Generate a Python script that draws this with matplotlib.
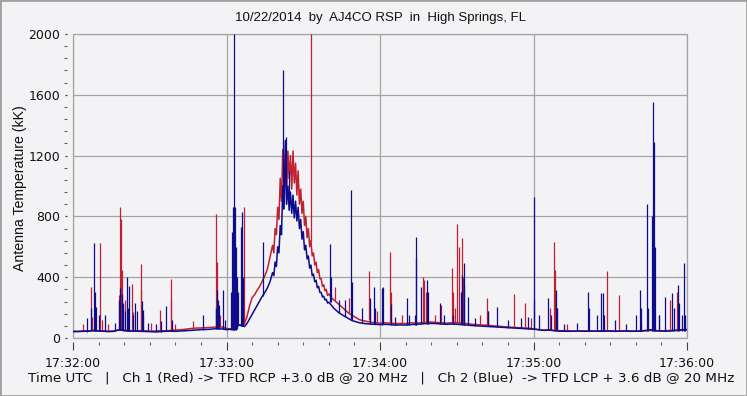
import matplotlib
matplotlib.use("Agg")
import matplotlib.pyplot as plt
from matplotlib.ticker import MultipleLocator, FixedLocator
from matplotlib.patches import Rectangle
import numpy as np

# ---------------- text ----------------
title = "10/22/2014  by  AJ4CO RSP  in  High Springs, FL"
ylabel = "Antenna Temperature (kK)"
footer = ("Time UTC   |   Ch 1 (Red) -> TFD RCP +3.0 dB @ 20 MHz   |   "
          "Ch 2 (Blue)  -> TFD LCP + 3.6 dB @ 20 MHz")
x_tick_pos = [0, 60, 120, 180, 240]          # seconds after 17:32:00
x_tick_labels = ["17:32:00", "17:33:00", "17:34:00", "17:35:00", "17:36:00"]
y_ticks = [0, 400, 800, 1200, 1600, 2000]

# ---------------- data (seconds after 17:32:00, kK) ----------------
pre_t = np.arange(0, 67, 2)
red_pre = [45, 44, 47, 46, 48, 46, 47, 45, 46, 52, 50, 48, 46, 48, 47, 45, 46,
           48, 47, 50, 52, 54, 58, 62, 65, 66, 68, 70, 72, 74, 62, 60, 80, 90]
blue_pre = [42, 42, 44, 45, 50, 46, 44, 42, 44, 55, 48, 46, 45, 44, 43, 42, 40,
            42, 44, 45, 44, 46, 48, 50, 52, 55, 56, 58, 62, 60, 55, 58, 90, 80]

hump_t = np.concatenate([np.arange(67, 79, 1.0), np.arange(78.5, 100.5, 0.5),
                         np.arange(101, 113, 1.0)])
red_hump = [95, 140, 210, 265, 285, 315, 340, 375, 410, 455, 530, 610,
            560, 720, 680, 860, 780, 1050, 900, 1240, 1000, 1180,
            950, 1230, 1050, 1200, 980, 1230, 1020, 1150, 940, 1100,
            880, 980, 820, 900, 740, 800, 660, 720, 600, 640,
            540, 560, 480, 500, 430, 450, 390, 390, 340, 350,
            310, 320, 280, 290,
            265, 250, 235, 220, 205, 190, 175, 160, 150, 140, 130, 120]
blue_hump = [75, 95, 125, 155, 185, 215, 245, 275, 300, 330, 370, 430,
             410, 500, 470, 600, 560, 740, 680, 1000, 850, 1300,
             880, 1000, 840, 960, 820, 940, 790, 900, 770, 860,
             720, 780, 650, 700, 580, 610, 520, 540, 460, 480,
             410, 420, 370, 380, 330, 340, 300, 300, 270, 275,
             250, 255, 230, 235,
             215, 195, 180, 165, 155, 145, 135, 125, 115, 110, 105, 100]

post_t = np.arange(114, 241, 2)
red_post = [112, 105, 100, 98, 100, 98, 95, 96, 95, 100,
            98, 100, 102, 105, 102, 100, 98, 100, 100, 98,
            95, 90, 88, 85, 85, 80, 78, 75, 72, 70,
            68, 66, 65, 60, 55, 52, 55, 50, 48, 48,
            47, 46, 46, 47, 46, 45, 47, 48, 46, 45,
            46, 47, 46, 45, 46, 48, 50, 48, 47, 48,
            50, 52, 55, 55]
blue_post = [95, 92, 90, 88, 90, 88, 85, 86, 85, 88,
             90, 92, 95, 96, 95, 92, 90, 92, 90, 88,
             85, 82, 80, 78, 76, 74, 72, 70, 68, 66,
             64, 62, 60, 58, 55, 50, 52, 48, 45, 45,
             44, 45, 46, 44, 45, 46, 44, 45, 46, 44,
             45, 46, 44, 45, 46, 50, 55, 48, 46, 45,
             47, 50, 52, 55]

# spikes: time, base, peak
red_spike_t = [3.8, 6.9, 7.5, 10.7, 11.2, 13.5, 17.8, 18.3, 18.6, 19.0, 19.5, 20.5,
               21.5, 23.1, 23.6, 26.4, 26.6, 27.2, 30.5, 34.1, 38.2, 38.4, 40.0,
               47.0, 55.8, 56.0, 56.3, 57.5, 64.0, 67.0, 92.9, 102.4, 108.0,
               115.6, 116.2, 119.0, 124.0, 124.4, 128.5, 136.7, 137.3, 137.9,
               141.5, 143.9, 148.0, 148.5, 149.5, 150.2, 151.0, 152.2, 152.6,
               159.0, 162.0, 162.4, 172.5, 176.7, 179.0, 186.5, 188.1, 188.5,
               189.0, 193.0, 208.9, 213.5, 222.0, 229.0, 233.5, 236.0]
red_spike_base = [45, 46, 46, 46, 46, 46, 50, 52, 52, 50, 50, 50,
                  48, 48, 48, 48, 48, 48, 46, 48, 50, 50, 52,
                  62, 72, 72, 72, 74, 80, 95, 640, 250, 165,
                  120, 115, 100, 98, 98, 96, 100, 100, 100,
                  104, 103, 100, 100, 100, 100, 100, 98, 98,
                  88, 85, 85, 70, 66, 62, 55, 50, 50,
                  50, 48, 48, 47, 48, 48, 48, 48]
red_spike_peak = [90, 338, 140, 627, 120, 90, 280, 864, 781, 447, 200, 250,
                  180, 355, 170, 320, 485, 150, 100, 184, 250, 388, 90,
                  110, 200, 816, 500, 150, 200, 864, 2000, 338, 260,
                  441, 200, 180, 568, 300, 150, 404, 380, 300,
                  150, 220, 458, 300, 200, 750, 600, 656, 400,
                  150, 261, 180, 290, 228, 130, 200, 634, 450,
                  200, 90, 443, 283, 100, 150, 250, 300]

blue_spike_t = [5.5, 7.2, 8.3, 8.6, 9.0, 10.0, 12.6, 16.5, 18.0, 18.5, 19.0, 19.5,
                20.2, 21.0, 21.4, 21.9, 23.5, 24.4, 24.9, 27.0, 27.3, 29.5, 32.5,
                34.3, 36.5, 38.8, 50.9, 55.8, 56.2, 56.6, 57.0, 58.8, 59.5,
                61.8, 62.2, 62.5, 62.8, 63.1, 63.4, 63.7, 64.0, 64.4, 65.7, 66.0,
                66.3, 74.4, 82.2, 83.4, 84.3, 100.5, 100.8, 104.0, 106.5, 108.8,
                109.2, 113.0, 115.9, 117.6, 118.0, 120.7, 121.3, 124.3, 126.0,
                130.4, 131.5, 133.5, 134.0, 134.2, 136.2, 138.2, 138.6, 143.6,
                145.0, 148.5, 151.5, 152.0, 152.7, 153.0, 154.4, 157.0, 162.3,
                165.6, 170.0, 175.0, 178.0, 180.0, 180.3, 182.0, 185.8, 187.0,
                188.6, 189.2, 192.0, 197.0, 201.4, 201.8, 205.0, 206.3, 207.0,
                207.5, 212.0, 216.0, 220.0, 221.5, 222.2, 224.2, 224.6, 226.5,
                226.8, 227.1, 227.4, 229.0, 231.5, 234.1, 234.8, 236.5, 237.0,
                238.0, 238.9, 239.3]
blue_spike_base = [42, 45, 48, 48, 48, 46, 44, 44, 55, 55, 55, 55,
                   52, 48, 48, 48, 47, 46, 46, 44, 44, 43, 42,
                   42, 44, 45, 55, 62, 62, 62, 62, 60, 58,
                   55, 55, 55, 55, 55, 55, 55, 60, 80, 80, 80,
                   80, 275, 850, 880, 860, 235, 235, 165, 140, 125,
                   120, 100, 95, 92, 92, 88, 90, 88, 86,
                   85, 85, 88, 88, 88, 90, 95, 95, 95,
                   92, 90, 90, 88, 88, 88, 85, 82, 76,
                   74, 68, 64, 60, 58, 58, 55, 52, 50,
                   50, 50, 48, 46, 46, 46, 46, 46, 46,
                   46, 46, 46, 46, 46, 46, 46, 46, 46,
                   46, 46, 46, 46, 46, 46, 46, 46, 46,
                   46, 46, 46]
blue_spike_peak = [130, 200, 627, 300, 206, 150, 151, 100, 250, 330, 290, 230,
                   180, 399, 200, 342, 150, 228, 178, 243, 184, 100, 90,
                   110, 210, 120, 151, 200, 316, 250, 220, 316, 120,
                   300, 700, 864, 500, 2000, 864, 600, 400, 300, 732, 831,
                   400, 634, 1760, 1320, 1100, 616, 400, 250, 250, 974,
                   371, 200, 261, 338, 200, 331, 338, 224, 140,
                   261, 150, 150, 524, 667, 338, 382, 300, 228,
                   150, 150, 300, 414, 491, 350, 272, 130, 180,
                   206, 120, 130, 140, 925, 250, 150, 261, 150,
                   316, 200, 90, 100, 305, 200, 150, 298, 294,
                   150, 120, 90, 150, 316, 200, 880, 200, 800,
                   1555, 1290, 600, 150, 272, 294, 200, 349, 228,
                   150, 496, 150]

# ---------------- styling ----------------
BG = "#f3f3f6"
RED = "#c0202f"
BLUE = "#0c0c8c"
GRID = "#a4a4a4"
TXT = "#101010"
FS = 9

fig = plt.figure(figsize=(7.47, 3.96), dpi=100, facecolor=BG)
ax = fig.add_axes([73 / 747, 1 - 338 / 396, 614 / 747, 304 / 396])
ax.set_facecolor(BG)

red_t = np.concatenate([pre_t, hump_t, post_t])
red_v = np.concatenate([red_pre, red_hump, red_post])
blue_t = np.concatenate([pre_t, hump_t, post_t])
blue_v = np.concatenate([blue_pre, blue_hump, blue_post])

lw = 1.1
ax.plot(red_t, red_v, color=RED, lw=lw, zorder=3)
ax.vlines(red_spike_t, red_spike_base, red_spike_peak, color=RED, lw=0.9, zorder=3)
ax.plot(blue_t, blue_v, color=BLUE, lw=lw, zorder=4)
ax.vlines(blue_spike_t, blue_spike_base, blue_spike_peak, color=BLUE, lw=0.9, zorder=4)

ax.set_xlim(0, 240)
ax.set_ylim(0, 2000)
ax.xaxis.set_major_locator(FixedLocator(x_tick_pos))
ax.set_xticklabels(x_tick_labels)
ax.xaxis.set_minor_locator(MultipleLocator(10))
ax.yaxis.set_major_locator(FixedLocator(y_ticks))
ax.yaxis.set_minor_locator(MultipleLocator(80))
ax.grid(True, which="major", color=GRID, lw=0.9, zorder=1)
ax.set_axisbelow(True)

for s in ax.spines.values():
    s.set_visible(False)
ax.spines["left"].set_position(("outward", 4))
ax.spines["bottom"].set_position(("outward", 3))
ax.add_patch(Rectangle((0, 0), 1, 1, transform=ax.transAxes, fill=False,
                       ec=GRID, lw=0.9, clip_on=False, zorder=2))

ax.tick_params(axis="x", which="major", length=5.5, width=0.8, color="#404040",
               pad=5, labelsize=FS, labelcolor=TXT)
ax.tick_params(axis="x", which="minor", length=2.5, width=0.8, color="#606060")
ax.tick_params(axis="y", which="major", length=1.2, width=0.9, color="#404040",
               pad=4, labelsize=FS, labelcolor=TXT)
ax.tick_params(axis="y", which="minor", length=2.0, width=0.8, color="#606060")

fig.text(380.5 / 747, 1 - 18 / 396, title, ha="center", va="center",
         fontsize=9.5, color=TXT, family="Liberation Sans")
fig.text(20 / 747, 1 - 188 / 396, ylabel, ha="center", va="center",
         rotation=90, fontsize=10.2, color=TXT, family="Liberation Sans")
fig.text(381 / 747, 1 - 378.5 / 396, footer, ha="center", va="center",
         fontsize=9.7, color=TXT)

fig.add_artist(Rectangle((0, 0), 1, 1, transform=fig.transFigure, fill=False,
                         ec="#a0a0a0", lw=2.0))

fig.savefig("out.png", dpi=100, facecolor=BG)
